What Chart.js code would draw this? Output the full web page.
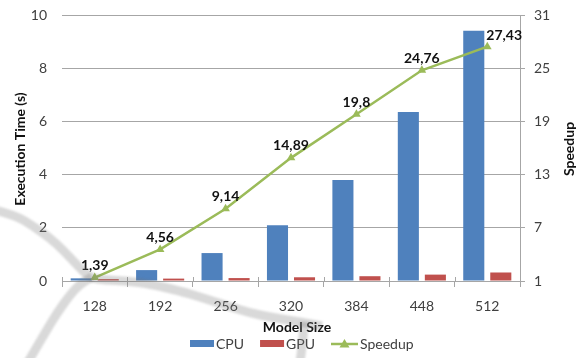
<!DOCTYPE html>
<html>
<head>
<meta charset="utf-8">
<script src="https://cdn.jsdelivr.net/npm/chart.js@4.4.0/dist/chart.umd.min.js"></script>
<style>
  html, body { margin: 0; padding: 0; background: #ffffff; }
  #wrap { width: 577px; height: 358px; }
</style>
</head>
<body>
<div id="wrap"><canvas id="c" width="577" height="358"></canvas></div>
<script>
// Model sizes and measured results
const modelSizes = ['128', '192', '256', '320', '384', '448', '512'];
const cpuTime = [0.10, 0.41, 1.05, 2.10, 3.80, 6.35, 9.41];
const gpuTime = [0.07, 0.09, 0.11, 0.14, 0.18, 0.24, 0.32];
const speedup = [1.39, 4.56, 9.14, 14.89, 19.8, 24.76, 27.43];

// Axis tick values
const timeTicks = [0, 2, 4, 6, 8, 10];
const speedupTicks = [1, 7, 13, 19, 25, 31];

const FONT = 'Lato, "Open Sans", sans-serif';
const GRID = '#a6a6a6';
const BLUE = '#4f81bd';
const RED = '#c0504d';
const GREEN = '#9bbb59';

function fmt(v) { return String(v).replace('.', ','); }

// Fixed axis sizes so the plot area sits at a known place
function fixVertical(width) {
  return s => {
    s.width = width;
    s.paddingTop = 0;
    s.paddingBottom = 0;
  };
}

// Value labels above the speedup points
const valueLabels = {
  id: 'valueLabels',
  afterDatasetsDraw(chart) {
    const meta = chart.getDatasetMeta(0);
    const ctx = chart.ctx;
    ctx.save();
    ctx.font = 'bold 14px ' + FONT;
    ctx.fillStyle = '#111111';
    ctx.textBaseline = 'middle';
    meta.data.forEach((pt, i) => {
      const last = i === meta.data.length - 1;
      ctx.textAlign = last ? 'left' : 'center';
      ctx.fillText(fmt(speedup[i]), last ? pt.x - 1 : pt.x, pt.y - (last ? 11 : 12));
    });
    ctx.restore();
  }
};

// Axis titles, legend, tick crosses and the background mark
const decorations = {
  id: 'decorations',
  afterDraw(chart) {
    const ctx = chart.ctx;
    const area = chart.chartArea;

    // short tick segments above the category axis
    ctx.save();
    ctx.strokeStyle = GRID;
    ctx.lineWidth = 1;
    for (let i = 0; i <= modelSizes.length; i++) {
      const x = Math.round(area.left + (area.right - area.left) * i / modelSizes.length) + 0.5;
      ctx.beginPath();
      ctx.moveTo(x, area.bottom - 4);
      ctx.lineTo(x, area.bottom);
      ctx.stroke();
    }
    ctx.restore();

    // axis titles
    ctx.save();
    ctx.fillStyle = '#111111';
    ctx.font = 'bold 14px ' + FONT;
    ctx.textAlign = 'center';
    ctx.textBaseline = 'middle';
    ctx.fillText('Model Size', 297, 327);
    ctx.translate(20, 149);
    ctx.rotate(-Math.PI / 2);
    ctx.fillText('Execution Time (s)', 0, 0);
    ctx.restore();

    ctx.save();
    ctx.fillStyle = '#111111';
    ctx.font = 'bold 14px ' + FONT;
    ctx.textAlign = 'center';
    ctx.textBaseline = 'middle';
    ctx.translate(569, 149);
    ctx.rotate(-Math.PI / 2);
    ctx.fillText('Speedup', 0, 0);
    ctx.restore();

    // legend
    ctx.save();
    ctx.font = '14px ' + FONT;
    ctx.textBaseline = 'middle';
    const ly = 344;
    let x = 190;
    const items = [
      { label: chart.data.datasets[1].label, color: BLUE, kind: 'box' },
      { label: chart.data.datasets[2].label, color: RED, kind: 'box' },
      { label: chart.data.datasets[0].label, color: GREEN, kind: 'line' }
    ];
    items.forEach(it => {
      if (it.kind === 'box') {
        ctx.fillStyle = it.color;
        ctx.fillRect(x, ly - 4, 24, 7);
      } else {
        ctx.strokeStyle = it.color;
        ctx.lineWidth = 2.5;
        ctx.beginPath();
        ctx.moveTo(x, ly);
        ctx.lineTo(x + 27, ly);
        ctx.stroke();
        ctx.fillStyle = it.color;
        const cx = x + 13.5;
        ctx.beginPath();
        ctx.moveTo(cx, ly - 5);
        ctx.lineTo(cx + 5, ly + 3.5);
        ctx.lineTo(cx - 5, ly + 3.5);
        ctx.closePath();
        ctx.fill();
      }
      const tx = x + (it.kind === 'box' ? 26 : 29);
      ctx.fillStyle = '#404040';
      ctx.textAlign = 'left';
      ctx.fillText(it.label, tx, ly);
      x = tx + ctx.measureText(it.label).width + 16;
    });
    ctx.restore();

    // faint grey mark behind the plot
    ctx.save();
    ctx.strokeStyle = 'rgba(120,120,120,0.28)';
    ctx.lineWidth = 9;
    ctx.lineJoin = 'round';
    ctx.lineCap = 'butt';
    ctx.filter = 'blur(1.2px)';
    const strokePath = pts => {
      ctx.beginPath();
      ctx.moveTo(pts[0][0], pts[0][1]);
      for (let i = 1; i < pts.length - 1; i++) {
        const mx = (pts[i][0] + pts[i + 1][0]) / 2;
        const my = (pts[i][1] + pts[i + 1][1]) / 2;
        ctx.quadraticCurveTo(pts[i][0], pts[i][1], mx, my);
      }
      const e = pts[pts.length - 1];
      ctx.lineTo(e[0], e[1]);
      ctx.stroke();
    };
    strokePath([[-5, 210], [15, 215], [33, 226], [50, 238], [63, 250], [77, 265], [90, 278],
                [105, 280], [127, 281], [150, 284], [180, 291], [200, 297], [225, 305],
                [250, 313], [275, 318], [300, 322], [322, 326]]);
    strokePath([[304, 322], [303, 340], [300, 362]]);
    strokePath([[28, 362], [45, 333], [57, 313], [70, 295], [80, 284], [92, 277]]);
    ctx.restore();
  }
};

const chart = new Chart(document.getElementById('c'), {
  data: {
    labels: modelSizes,
    datasets: [
      {
        type: 'line',
        label: 'Speedup',
        data: speedup,
        yAxisID: 'y1',
        borderColor: GREEN,
        backgroundColor: GREEN,
        borderWidth: 2.5,
        pointStyle: 'triangle',
        pointRadius: 5,
        pointBorderWidth: 0,
        pointBackgroundColor: GREEN,
        tension: 0,
        order: 0
      },
      {
        type: 'bar',
        label: 'CPU',
        data: cpuTime,
        yAxisID: 'y',
        backgroundColor: BLUE,
        borderWidth: 0,
        categoryPercentage: 0.826,
        barPercentage: 0.78,
        order: 1
      },
      {
        type: 'bar',
        label: 'GPU',
        data: gpuTime,
        yAxisID: 'y',
        backgroundColor: RED,
        borderWidth: 0,
        categoryPercentage: 0.826,
        barPercentage: 0.78,
        order: 1
      }
    ]
  },
  options: {
    responsive: false,
    animation: false,
    devicePixelRatio: 1,
    layout: { autoPadding: false, padding: { top: 15, left: 0, right: 0, bottom: 0 } },
    plugins: {
      legend: { display: false },
      tooltip: { enabled: false },
      title: { display: false }
    },
    scales: {
      x: {
        offset: true,
        afterFit: s => { s.height = 77; },
        grid: { offset: true, drawOnChartArea: false, color: GRID, tickLength: 6 },
        border: { display: true, color: GRID },
        ticks: { font: { family: FONT, size: 14 }, color: '#404040', padding: 11 }
      },
      y: {
        position: 'left',
        min: 0,
        max: 10,
        afterFit: fixVertical(62),
        afterBuildTicks: s => { s.ticks = timeTicks.map(v => ({ value: v })); },
        grid: { color: GRID, drawTicks: false },
        border: { display: false },
        ticks: { font: { family: FONT, size: 14 }, color: '#404040', padding: 15 }
      },
      y1: {
        position: 'right',
        min: 1,
        max: 31,
        afterFit: fixVertical(57),
        afterBuildTicks: s => { s.ticks = speedupTicks.map(v => ({ value: v })); },
        grid: { drawOnChartArea: false, color: GRID, tickLength: 5 },
        border: { display: true, color: GRID },
        ticks: { font: { family: FONT, size: 14 }, color: '#404040', padding: 9 }
      }
    }
  },
  plugins: [valueLabels, decorations]
});
</script>
</body>
</html>
